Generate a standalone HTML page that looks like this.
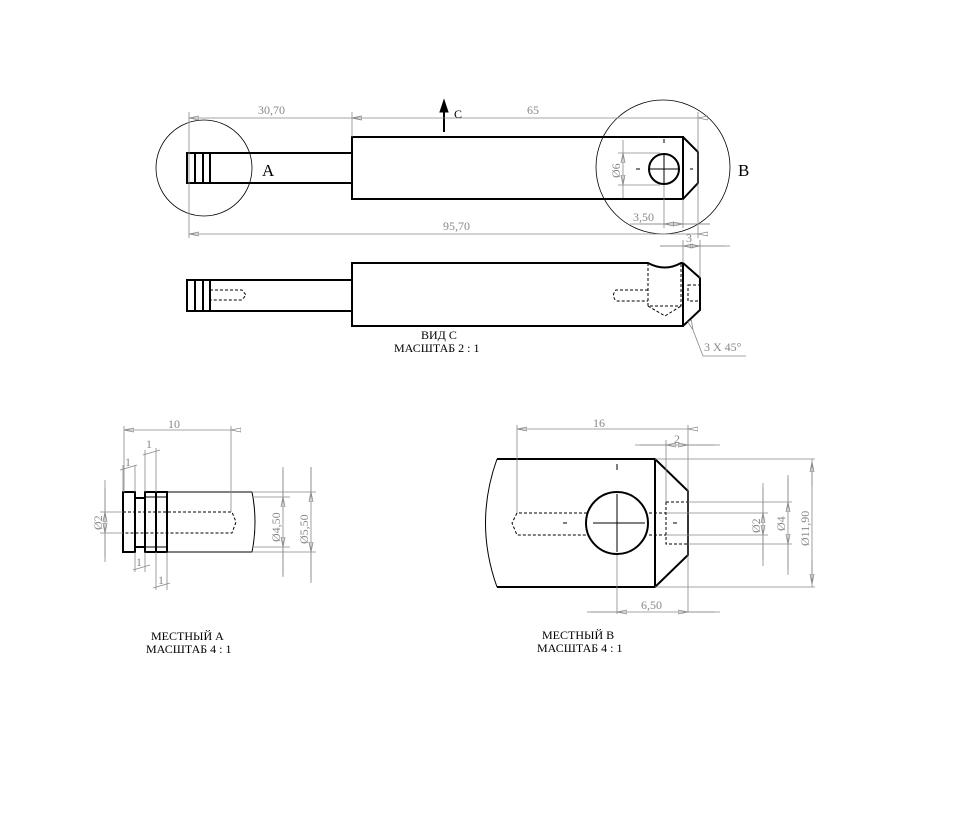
<!DOCTYPE html>
<html><head><meta charset="utf-8"><style>
html,body{margin:0;padding:0;background:#fff;}
svg{display:block}
text{font-family:"Liberation Serif",serif;}
</style></head><body>
<svg width="956" height="832" viewBox="0 0 956 832" xmlns="http://www.w3.org/2000/svg">
<defs>
<marker id="a" viewBox="0 0 10 6" refX="0" refY="3" markerWidth="10" markerHeight="6" orient="auto" markerUnits="userSpaceOnUse">
<path d="M0,3 L10,1 L10,5 Z" fill="none" stroke="#888" stroke-width="0.8"/></marker>
</defs>
<g fill="none" stroke="#000">
<!-- TOP VIEW -->
<circle cx="204" cy="168" r="48" stroke-width="0.8"/>
<circle cx="663" cy="167" r="67" stroke-width="0.8"/>
<g stroke-width="2">
<rect x="352" y="137" width="331" height="62"/>
<polyline points="683,137 698,152 698,183 683,199"/>
<rect x="210" y="153" width="142" height="30"/>
<rect x="187" y="153" width="23" height="30"/>
<line x1="195" y1="153" x2="195" y2="183"/><line x1="203" y1="153" x2="203" y2="183"/>
<circle cx="664" cy="169" r="15"/>
<line x1="444" y1="132" x2="444" y2="110"/>
</g>
<path d="M444,100 L440,112 L448,112 Z" fill="#000"/>
<g stroke-width="1">
<line x1="648" y1="169" x2="680" y2="169"/><line x1="664" y1="153" x2="664" y2="185"/>
<line x1="636" y1="169" x2="640" y2="169"/><line x1="690" y1="169" x2="693" y2="169"/>
<line x1="664" y1="139" x2="664" y2="143"/>
</g>
<!-- SECOND VIEW -->
<g stroke-width="2">
<path d="M352,263 L648,263 Q665,272 681,263 L683,263 L700,278 L700,310 L683,326 L352,326 Z"/>
<line x1="683" y1="263" x2="683" y2="326"/>
<rect x="210" y="280" width="142" height="31"/>
<rect x="187" y="280" width="23" height="31"/>
<line x1="195" y1="280" x2="195" y2="311"/><line x1="203" y1="280" x2="203" y2="311"/>
</g>
<g stroke-width="1" stroke-dasharray="3,2">
<polyline points="210,290 242,290 246,295 242,300 210,300"/>
<path d="M648,290 L616,290 Q611,295 616,301 L648,301"/>
<polyline points="648,263 648,306 681,306 681,263"/>
<polyline points="648,306 665,316 681,306"/>
<rect x="688" y="285" width="12" height="16"/>
</g>
<!-- DETAIL A -->
<g stroke-width="2">
<rect x="123" y="492" width="12" height="60"/>
<rect x="135" y="498" width="10" height="49"/>
<rect x="145" y="492" width="11" height="60"/>
<rect x="156" y="492" width="11" height="60"/>
</g>
<g stroke-width="1">
<line x1="167" y1="492" x2="252" y2="492"/><line x1="167" y1="552" x2="252" y2="552"/>
<path d="M252,492 Q258,522 252,552"/>
<line x1="145" y1="497" x2="167" y2="497"/><line x1="145" y1="547" x2="167" y2="547"/>
</g>
<g stroke-width="1" stroke-dasharray="3,2">
<polyline points="123,512 232,512 236,522 232,533 123,533"/>
</g>
<!-- DETAIL B -->
<g stroke-width="2">
<path d="M497,459 L655,459 L688,491 L688,555 L655,587 L497,587"/>
<line x1="655" y1="459" x2="655" y2="587"/>
<circle cx="617" cy="523" r="31"/>
</g>
<g stroke-width="1">
<path d="M497,459 Q474,523 497,587"/>
<line x1="593" y1="523" x2="645" y2="523"/><line x1="617" y1="494" x2="617" y2="552"/>
<line x1="563" y1="523" x2="567" y2="523"/><line x1="673" y1="523" x2="677" y2="523"/>
<line x1="617" y1="464" x2="617" y2="470"/>
</g>
<g stroke-width="1" stroke-dasharray="3,2">
<polyline points="587,513 517,513 512,523 517,535 587,535"/>
<line x1="649" y1="513" x2="666" y2="513"/><line x1="649" y1="535" x2="666" y2="535"/>
<rect x="666" y="502" width="22" height="42"/>
</g>
</g>
<!-- DIMENSIONS -->
<g stroke="#888" stroke-width="0.8" fill="none">
<line x1="189" y1="112" x2="189" y2="238"/>
<line x1="352" y1="112" x2="352" y2="137"/>
<line x1="698" y1="112" x2="698" y2="238"/>
<line x1="189" y1="118" x2="352" y2="118" marker-start="url(#a)" marker-end="url(#a)"/>
<line x1="352" y1="118" x2="698" y2="118" marker-start="url(#a)" marker-end="url(#a)"/>
<line x1="189" y1="234" x2="698" y2="234" marker-start="url(#a)" marker-end="url(#a)"/>
<line x1="618" y1="153" x2="660" y2="153"/><line x1="618" y1="185" x2="660" y2="185"/>
<line x1="623" y1="140" x2="623" y2="153" marker-end="url(#a)"/>
<line x1="623" y1="198" x2="623" y2="185" marker-end="url(#a)"/>
<line x1="623" y1="153" x2="623" y2="185"/>
<line x1="664" y1="185" x2="664" y2="228"/><line x1="683" y1="199" x2="683" y2="228"/>
<line x1="630" y1="224" x2="710" y2="224"/>
<line x1="640" y1="224" x2="664" y2="224" marker-end="url(#a)"/>
<line x1="710" y1="224" x2="683" y2="224" marker-end="url(#a)"/>
<!-- 3 -->
<line x1="683" y1="240" x2="683" y2="263"/><line x1="700" y1="240" x2="700" y2="278"/>
<line x1="660" y1="246" x2="730" y2="246"/>
<line x1="660" y1="246" x2="683" y2="246" marker-end="url(#a)"/>
<line x1="725" y1="246" x2="700" y2="246" marker-end="url(#a)"/>
<polyline points="746,356 703,356 693,330" marker-end="url(#a)"/>
<!-- Detail A dims -->
<line x1="124" y1="426" x2="124" y2="492"/><line x1="231" y1="426" x2="231" y2="512"/>
<line x1="124" y1="430" x2="231" y2="430" marker-start="url(#a)" marker-end="url(#a)"/>
<line x1="145" y1="450" x2="145" y2="492"/><line x1="156" y1="448" x2="156" y2="492"/>
<line x1="143" y1="455" x2="160" y2="450"/>
<line x1="123" y1="465" x2="123" y2="492"/><line x1="135" y1="465" x2="135" y2="492"/>
<line x1="120" y1="470" x2="137" y2="465"/>
<line x1="135" y1="552" x2="135" y2="572"/><line x1="145" y1="552" x2="145" y2="572"/>
<line x1="133" y1="570" x2="150" y2="565"/>
<line x1="156" y1="552" x2="156" y2="590"/><line x1="167" y1="552" x2="167" y2="590"/>
<line x1="153" y1="588" x2="170" y2="583"/>
<line x1="100" y1="512" x2="123" y2="512"/><line x1="100" y1="533" x2="123" y2="533"/>
<line x1="105" y1="480" x2="105" y2="562"/>
<line x1="105" y1="488" x2="105" y2="512" marker-end="url(#a)"/>
<line x1="105" y1="557" x2="105" y2="533" marker-end="url(#a)"/>
<line x1="252" y1="497" x2="290" y2="497"/><line x1="252" y1="547" x2="290" y2="547"/>
<line x1="252" y1="492" x2="316" y2="492"/><line x1="252" y1="552" x2="316" y2="552"/>
<line x1="283" y1="467" x2="283" y2="577"/>
<line x1="283" y1="470" x2="283" y2="497" marker-end="url(#a)"/>
<line x1="283" y1="575" x2="283" y2="547" marker-end="url(#a)"/>
<line x1="311" y1="467" x2="311" y2="583"/>
<line x1="311" y1="467" x2="311" y2="492" marker-end="url(#a)"/>
<line x1="311" y1="580" x2="311" y2="552" marker-end="url(#a)"/>
<!-- Detail B dims -->
<line x1="517" y1="425" x2="517" y2="513"/><line x1="688" y1="425" x2="688" y2="612"/>
<line x1="517" y1="429" x2="688" y2="429" marker-start="url(#a)" marker-end="url(#a)"/>
<line x1="666" y1="440" x2="666" y2="502"/>
<line x1="635" y1="445" x2="720" y2="445"/>
<line x1="640" y1="445" x2="666" y2="445" marker-end="url(#a)"/>
<line x1="715" y1="445" x2="688" y2="445" marker-end="url(#a)"/>
<line x1="617" y1="555" x2="617" y2="614"/>
<line x1="587" y1="612" x2="720" y2="612"/>
<line x1="590" y1="612" x2="617" y2="612" marker-end="url(#a)"/>
<line x1="715" y1="612" x2="688" y2="612" marker-end="url(#a)"/>
<line x1="655" y1="459" x2="815" y2="459"/><line x1="655" y1="587" x2="815" y2="587"/>
<line x1="688" y1="502" x2="792" y2="502"/><line x1="688" y1="544" x2="792" y2="544"/>
<line x1="666" y1="513" x2="768" y2="513"/><line x1="666" y1="535" x2="768" y2="535"/>
<line x1="763" y1="483" x2="763" y2="566"/>
<line x1="763" y1="488" x2="763" y2="513" marker-end="url(#a)"/>
<line x1="763" y1="560" x2="763" y2="535" marker-end="url(#a)"/>
<line x1="788" y1="475" x2="788" y2="575"/>
<line x1="788" y1="478" x2="788" y2="502" marker-end="url(#a)"/>
<line x1="788" y1="570" x2="788" y2="544" marker-end="url(#a)"/>
<line x1="812" y1="459" x2="812" y2="587"/>
<line x1="812" y1="462" x2="812" y2="487" marker-start="url(#a)"/>
<line x1="812" y1="584" x2="812" y2="560" marker-start="url(#a)"/>
</g>
<g fill="#888" font-size="12">
<text x="258" y="114">30,70</text>
<text x="527" y="114">65</text>
<text x="443" y="230">95,70</text>
<text x="633" y="221">3,50</text>
<text x="686" y="242">3</text>
<text x="704" y="351">3 X 45°</text>
<text x="168" y="428">10</text>
<text x="146" y="448">1</text>
<text x="125" y="466">1</text>
<text x="136" y="566">1</text>
<text x="158" y="584">1</text>
<text x="593" y="427">16</text>
<text x="674" y="443">2</text>
<text x="641" y="609">6,50</text>
<text transform="translate(620,178) rotate(-90)">Ø6</text>
<text transform="translate(102,530) rotate(-90)">Ø2</text>
<text transform="translate(280,542) rotate(-90)">Ø4,50</text>
<text transform="translate(308,544) rotate(-90)">Ø5,50</text>
<text transform="translate(760,533) rotate(-90)">Ø2</text>
<text transform="translate(785,531) rotate(-90)">Ø4</text>
<text transform="translate(809,546) rotate(-90)">Ø11,90</text>
</g>
<g fill="#000" font-size="12">
<text x="454" y="118">C</text>
<text x="421" y="339">ВИД С</text>
<text x="394" y="352">МАСШТАБ 2 : 1</text>
<text x="151" y="640">МЕСТНЫЙ А</text>
<text x="146" y="653">МАСШТАБ 4 : 1</text>
<text x="542" y="639">МЕСТНЫЙ В</text>
<text x="537" y="652">МАСШТАБ 4 : 1</text>
</g>
<g fill="#000" font-size="17">
<text x="262" y="176" font-family="Liberation Sans, sans-serif">A</text>
<text x="738" y="176" font-family="Liberation Sans, sans-serif">B</text>
</g>
</svg>
</body></html>
